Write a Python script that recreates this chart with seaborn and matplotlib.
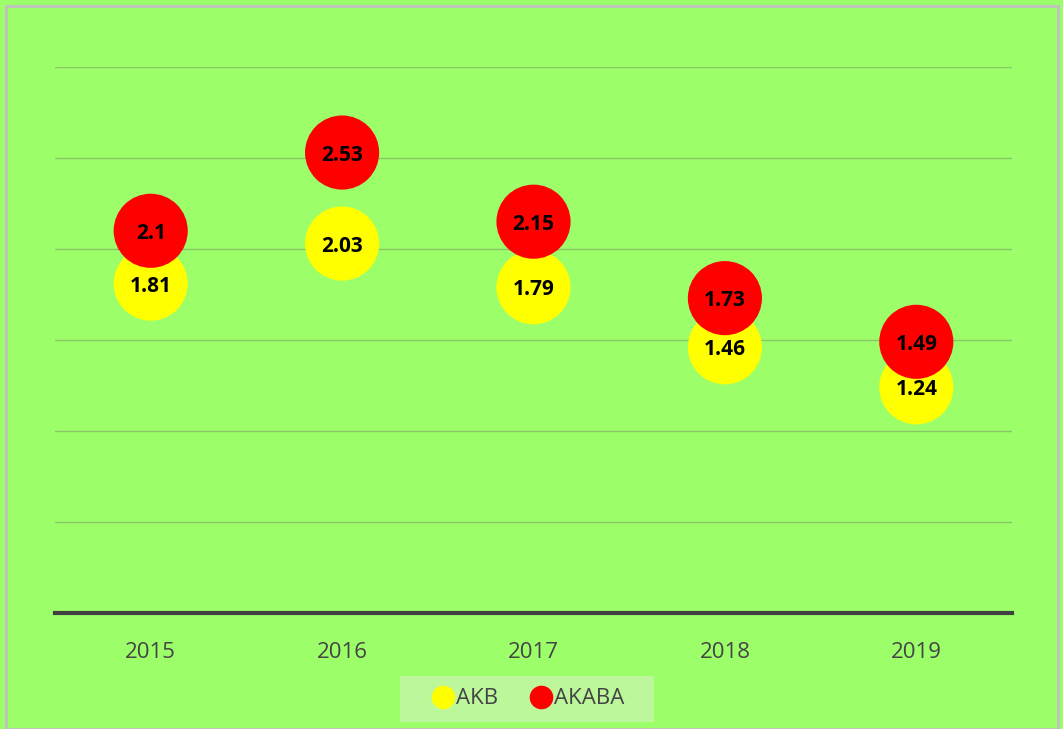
import pandas as pd
import seaborn as sns
import matplotlib.pyplot as plt
from matplotlib.patches import Rectangle

years = ['2015', '2016', '2017', '2018', '2019']
akb = [1.81, 2.03, 1.79, 1.46, 1.24]
akaba = [2.1, 2.53, 2.15, 1.73, 1.49]
series_names = ['AKB', 'AKABA']
series_colors = ['#FFFF00', '#FF0000']

df = pd.DataFrame({
    'year': years * 2,
    'value': akb + akaba,
    'series': [series_names[0]] * len(years) + [series_names[1]] * len(years),
})
df['pos'] = list(range(len(years))) * 2

sns.set_theme(style='white')
plt.rcParams['font.family'] = ['Open Sans', 'DejaVu Sans']

bg = '#9CFF69'
fig = plt.figure(figsize=(10.63, 7.29), dpi=100, facecolor=bg)
ax = fig.add_axes([55 / 1063, 116 / 729, 957 / 1063, 546 / 729])
ax.set_facecolor(bg)

sns.scatterplot(
    data=df, x='pos', y='value', hue='series',
    palette=dict(zip(series_names, series_colors)),
    s=2850, linewidth=0, alpha=1, ax=ax, zorder=3, legend=False,
)

for _, row in df.iterrows():
    ax.text(row['pos'], row['value'], f"{row['value']:g}", ha='center', va='center_baseline',
            fontsize=15, fontweight='bold', color='black', zorder=4)

ax.set_xlim(-0.5, len(years) - 0.5)
ax.set_ylim(0, 3)
ax.set_yticks([0.5, 1.0, 1.5, 2.0, 2.5, 3.0])
ax.set_yticklabels([])
ax.tick_params(axis='y', length=0)
ax.set_xticks(range(len(years)))
ax.set_xticklabels(years, fontsize=16, color='#444444')
ax.tick_params(axis='x', length=0, pad=21)
ax.grid(axis='y', color='#6E7F64', alpha=0.45, linewidth=1)
ax.set_axisbelow(True)
ax.set_xlabel('')
ax.set_ylabel('')
for side in ['top', 'right', 'left']:
    ax.spines[side].set_visible(False)
ax.spines['bottom'].set_color('#404040')
ax.spines['bottom'].set_linewidth(3)
ax.spines['bottom'].set_zorder(5)

# legend background box
fig.patches.append(Rectangle((400 / 1063, 7 / 729), 254 / 1063, 46 / 729, transform=fig.transFigure,
                             facecolor='#BDF79B', edgecolor='none', zorder=0))

handles = [plt.Line2D([], [], marker='o', linestyle='', markersize=17,
                      markerfacecolor=c, markeredgewidth=0) for c in series_colors]
leg = fig.legend(handles, series_names, loc='center', bbox_to_anchor=(527 / 1063, 30 / 729),
                 ncol=2, frameon=False, fontsize=16, handletextpad=0.0, columnspacing=1.3,
                 handlelength=1.2)
for t in leg.get_texts():
    t.set_color('#444444')

fig.patches.append(Rectangle((6 / 1063, 0), 1052 / 1063, 723 / 729, transform=fig.transFigure,
                             fill=False, edgecolor='#C0C0C0', linewidth=2))

plt.savefig('out.png', dpi=100, facecolor=bg)
plt.close()
